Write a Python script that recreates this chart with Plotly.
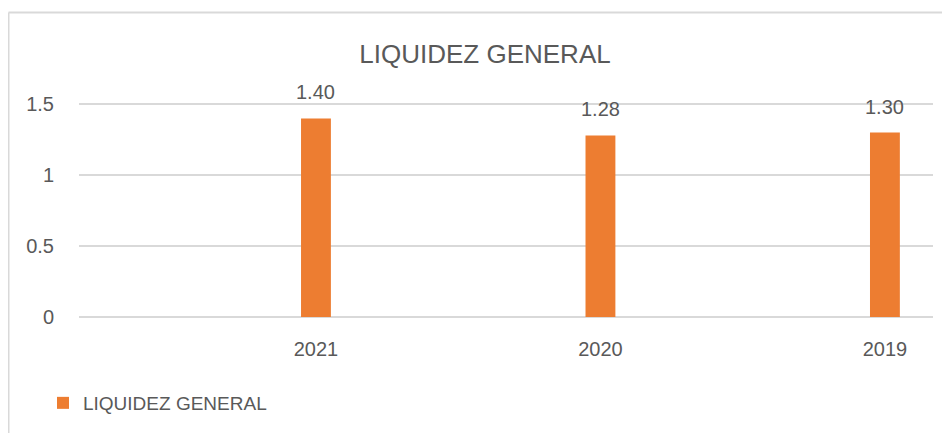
import plotly.graph_objects as go

years = ["2021", "2020", "2019"]
values = [1.40, 1.28, 1.30]
labels = ["1.40", "1.28", "1.30"]
series_name = "LIQUIDEZ GENERAL"
y_ticks = [0, 0.5, 1, 1.5]
y_tick_text = ["0", "0.5", "1", "1.5"]

ORANGE = "#ED7D31"
TEXT = "#595959"
GRID = "#D9D9D9"
FONT = "Liberation Sans, Arial, sans-serif"

# the page has an 8px body margin, so positions are offset by -8
OFF = 8
W, H = 950, 433
ml, mr, mt, mb = 79 - OFF, 17 + OFF, 90 - OFF, 116 + OFF
pw, ph = W - ml - mr, H - mt - mb

fig = go.Figure()
fig.add_trace(go.Bar(
    x=years, y=values, name=series_name,
    marker=dict(color=ORANGE, line=dict(width=0)),
    width=0.105,
    hoverinfo="x+y",
))

for i, (v, t) in enumerate(zip(values, labels)):
    fig.add_annotation(x=i, y=v, text=t, showarrow=False,
                       xref="x", yref="y", yanchor="bottom", yshift=13,
                       font=dict(family=FONT, size=20, color=TEXT))

# outer chart border (top and left visible in the reference crop)
bx = (8.5 - OFF - ml) / pw
by = 1 + (mt - (12.5 - OFF)) / ph
fig.add_shape(type="line", xref="paper", yref="paper",
              x0=bx, x1=(W + 5 - ml) / pw, y0=by, y1=by,
              line=dict(color=GRID, width=2), layer="below")
fig.add_shape(type="line", xref="paper", yref="paper",
              x0=bx, x1=bx, y0=by, y1=-(mb + 5) / ph,
              line=dict(color=GRID, width=2), layer="below")

fig.update_layout(
    width=W, height=H,
    margin=dict(l=ml, r=mr, t=mt, b=mb),
    paper_bgcolor="white", plot_bgcolor="white",
    font=dict(family=FONT, color=TEXT),
    title=dict(text=series_name, x=(485 - OFF) / W, xanchor="center",
               y=1 - (54 - OFF) / H, yanchor="middle", xref="container", yref="container",
               font=dict(family=FONT, size=26, color=TEXT)),
    showlegend=True,
    legend=dict(orientation="h", xref="container", yref="container",
                x=(43 - OFF) / W, xanchor="left", y=1 - (403 - OFF) / H, yanchor="middle",
                font=dict(family=FONT, size=19, color=TEXT),
                bgcolor="rgba(0,0,0,0)"),
    xaxis=dict(type="category", range=[-0.833, 2.169],
               showgrid=False, zeroline=False, showline=False,
               ticks="outside", ticklen=14, tickcolor="rgba(0,0,0,0)",
               tickfont=dict(family=FONT, size=20, color=TEXT)),
    yaxis=dict(range=[0, 1.6], tickvals=y_ticks, ticktext=y_tick_text,
               showgrid=True, gridcolor=GRID, gridwidth=1.5,
               zeroline=True, zerolinecolor=GRID, zerolinewidth=1.5,
               showline=False,
               ticks="outside", ticklen=20, tickcolor="rgba(0,0,0,0)",
               tickfont=dict(family=FONT, size=20, color=TEXT)),
)

fig.write_html("out.html")
